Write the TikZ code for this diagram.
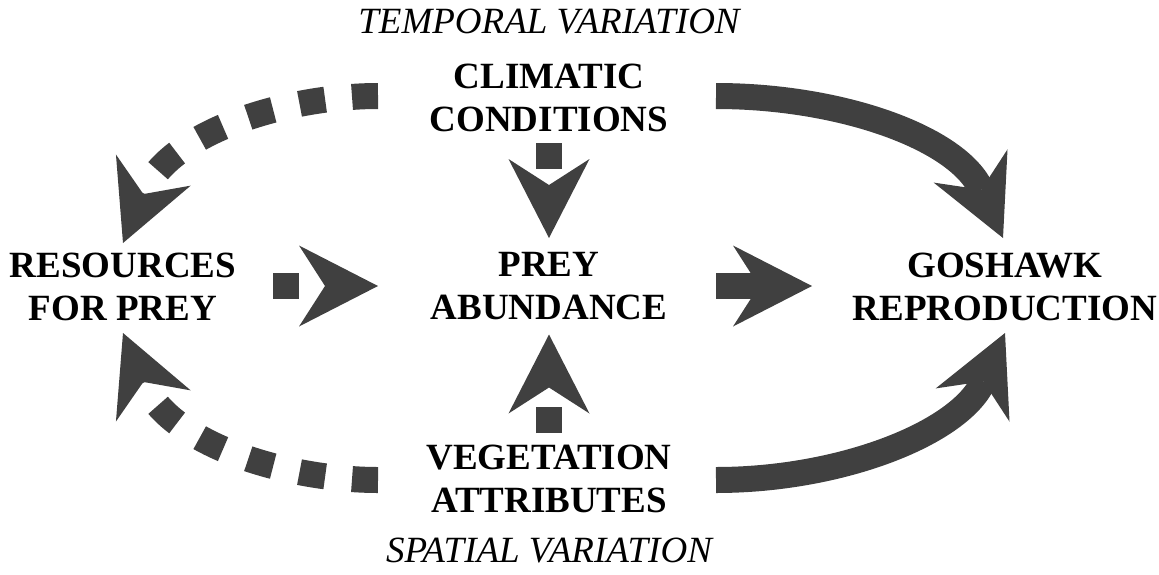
\documentclass[tikz,border=0pt]{standalone}
\usepackage{fontspec}
\setmainfont{Liberation Serif}
\usetikzlibrary{arrows.meta,calc}
\definecolor{arrowgray}{HTML}{404040}
\tikzset{
  lbl/.style={inner sep=0pt, align=center, font=\fontsize{37}{43}\selectfont\bfseries},
  axis/.style={inner sep=0pt, font=\fontsize{37}{42}\selectfont\itshape},
  flow/.style={draw=arrowgray, line width=26pt, line cap=butt,
    arrows={-Stealth[length=79pt,width=81pt,inset=26pt,line width=0pt,fill=arrowgray]}},
  onedash/.style={flow, dash pattern=on 26pt off 200pt},
  dots/.style={flow, dash pattern=on 26pt off 27pt}
}
\begin{document}
\begin{tikzpicture}[x=1pt,y=-1pt]
\useasboundingbox (0,0) rectangle (1159,574);
\node[axis] (temporal) at (549,22) {TEMPORAL VARIATION};
\node[axis] (spatial) at (549,551) {SPATIAL VARIATION};
\node[lbl] (c) at (549,97.5) {CLIMATIC\\CONDITIONS};
\node[lbl] (v) at (549,479) {VEGETATION\\ATTRIBUTES};
\node[lbl] (r) at (123,286.5) {RESOURCES\\FOR PREY};
\node[lbl] (p) at (549,286.5) {PREY\\ABUNDANCE};
\node[lbl] (g) at (1005,286.5) {GOSHAWK\\REPRODUCTION};
% straight connectors
\draw[onedash] ($(r.center)+(150,-0.5)$) -- ($(p.center)+(-171,-0.5)$);
\draw[flow] ($(p.center)+(167,-0.5)$) -- ($(g.center)+(-193,-0.5)$);
\draw[onedash] ($(c.center)+(0,45.5)$) -- ($(p.center)+(0,-48.5)$);
\draw[onedash] ($(v.center)+(0,-46)$) -- ($(p.center)+(0,48)$);
% curved connectors
\draw[dots] ($(c.center)+(-171,-1.5)$) .. controls +(-88,0) and +(47,-113) .. ($(r.center)+(0,-43.5)$);
\draw[dots] ($(v.center)+(-171,1)$) .. controls +(-88,0) and +(47,113) .. ($(r.center)+(0,46.5)$);
\draw[flow] ($(c.center)+(167,-1.5)$) .. controls +(125,0) and +(-45,-100) .. ($(g.center)+(-2,-48.5)$);
\draw[flow] ($(v.center)+(167,1)$) .. controls +(125,0) and +(-45,100) .. ($(g.center)+(0,46.5)$);
\end{tikzpicture}
\end{document}
